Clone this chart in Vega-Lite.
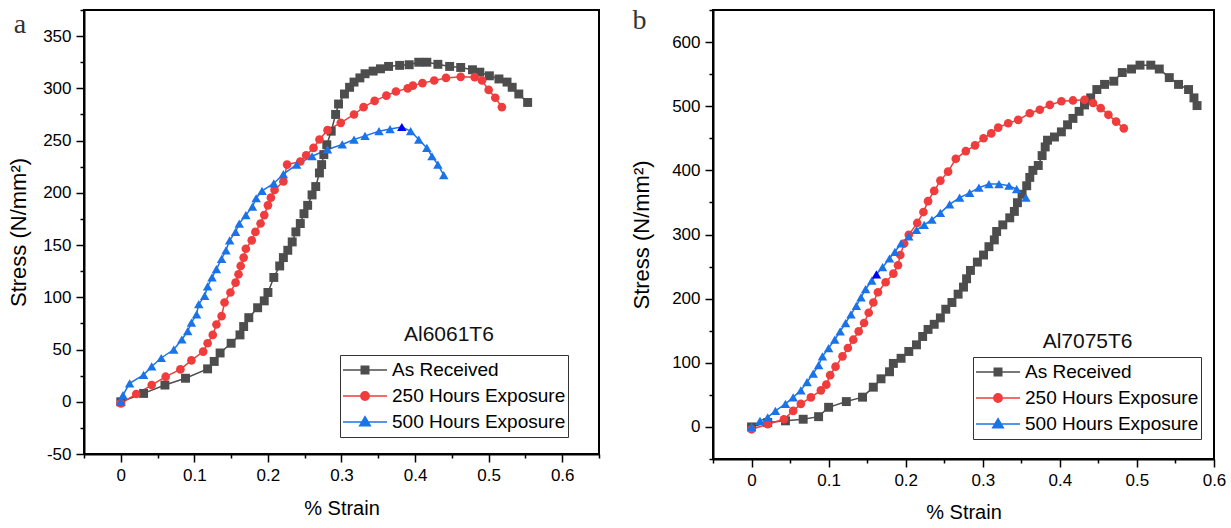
{
  "$schema": "https://vega.github.io/schema/vega-lite/v6.json",
  "background": "white",
  "padding": {"left": 6, "top": 0, "right": 5, "bottom": 0},
  "spacing": 28,
  "config": {
    "view": {"stroke": "black", "strokeWidth": 2},
    "style": {"cell": {"stroke": "black", "strokeWidth": 2}},
    "axis": {
      "domainColor": "black", "domainWidth": 2, "tickColor": "black", "tickWidth": 1.5,
      "labelFont": "Liberation Sans", "labelFontSize": 17, "labelColor": "black", "labelPadding": 5,
      "titleFont": "Liberation Sans", "titleFontSize": 20, "titleFontWeight": "normal", "titleColor": "black",
      "grid": false, "labelOverlap": false, "labelFlush": false, "labelBound": false
    },
    "axisY": {"titleFontSize": 22},
    "legend": {
      "strokeColor": "#333", "padding": 2, "labelFont": "Liberation Sans", "labelFontSize": 19,
      "labelColor": "black", "labelOffset": 4, "clipHeight": 26, "rowPadding": 0,
      "symbolStrokeWidth": 1.5, "symbolSize": 1936, "symbolOpacity": 1, "labelLimit": 300, "fillColor": "white"
    }
  },
  "resolve": {"scale": {"fill": "independent", "stroke": "independent", "shape": "independent"}},
  "datasets": {
    "a": [
      {"series": "As Received", "strain": 0, "stress": 0},
      {"series": "As Received", "strain": 0.031, "stress": 8},
      {"series": "As Received", "strain": 0.06, "stress": 16},
      {"series": "As Received", "strain": 0.088, "stress": 22.5},
      {"series": "As Received", "strain": 0.118, "stress": 31.5},
      {"series": "As Received", "strain": 0.127, "stress": 38.6},
      {"series": "As Received", "strain": 0.135, "stress": 46.7},
      {"series": "As Received", "strain": 0.15, "stress": 56},
      {"series": "As Received", "strain": 0.162, "stress": 64},
      {"series": "As Received", "strain": 0.167, "stress": 72},
      {"series": "As Received", "strain": 0.174, "stress": 80.5},
      {"series": "As Received", "strain": 0.186, "stress": 90},
      {"series": "As Received", "strain": 0.195, "stress": 96.6},
      {"series": "As Received", "strain": 0.2, "stress": 104.6},
      {"series": "As Received", "strain": 0.208, "stress": 119},
      {"series": "As Received", "strain": 0.216, "stress": 130},
      {"series": "As Received", "strain": 0.221, "stress": 138},
      {"series": "As Received", "strain": 0.227, "stress": 145},
      {"series": "As Received", "strain": 0.233, "stress": 153},
      {"series": "As Received", "strain": 0.238, "stress": 162.6},
      {"series": "As Received", "strain": 0.244, "stress": 170.6},
      {"series": "As Received", "strain": 0.249, "stress": 180},
      {"series": "As Received", "strain": 0.254, "stress": 188},
      {"series": "As Received", "strain": 0.26, "stress": 198},
      {"series": "As Received", "strain": 0.265, "stress": 206},
      {"series": "As Received", "strain": 0.27, "stress": 219},
      {"series": "As Received", "strain": 0.273, "stress": 227},
      {"series": "As Received", "strain": 0.276, "stress": 236.6},
      {"series": "As Received", "strain": 0.28, "stress": 246},
      {"series": "As Received", "strain": 0.286, "stress": 259},
      {"series": "As Received", "strain": 0.292, "stress": 275},
      {"series": "As Received", "strain": 0.296, "stress": 285},
      {"series": "As Received", "strain": 0.304, "stress": 294.6},
      {"series": "As Received", "strain": 0.311, "stress": 301},
      {"series": "As Received", "strain": 0.317, "stress": 306},
      {"series": "As Received", "strain": 0.325, "stress": 310},
      {"series": "As Received", "strain": 0.332, "stress": 314},
      {"series": "As Received", "strain": 0.343, "stress": 316.5},
      {"series": "As Received", "strain": 0.353, "stress": 318.7},
      {"series": "As Received", "strain": 0.364, "stress": 321},
      {"series": "As Received", "strain": 0.379, "stress": 322},
      {"series": "As Received", "strain": 0.392, "stress": 322.6},
      {"series": "As Received", "strain": 0.405, "stress": 325},
      {"series": "As Received", "strain": 0.416, "stress": 325},
      {"series": "As Received", "strain": 0.431, "stress": 323},
      {"series": "As Received", "strain": 0.447, "stress": 321},
      {"series": "As Received", "strain": 0.462, "stress": 320},
      {"series": "As Received", "strain": 0.478, "stress": 317.8},
      {"series": "As Received", "strain": 0.488, "stress": 315.5},
      {"series": "As Received", "strain": 0.501, "stress": 312},
      {"series": "As Received", "strain": 0.514, "stress": 309},
      {"series": "As Received", "strain": 0.525, "stress": 306},
      {"series": "As Received", "strain": 0.532, "stress": 301},
      {"series": "As Received", "strain": 0.541, "stress": 294.6},
      {"series": "As Received", "strain": 0.553, "stress": 286.5},
      {"series": "250 Hours Exposure", "strain": 0, "stress": -1.6},
      {"series": "250 Hours Exposure", "strain": 0.021, "stress": 7.4},
      {"series": "250 Hours Exposure", "strain": 0.042, "stress": 16},
      {"series": "250 Hours Exposure", "strain": 0.061, "stress": 24},
      {"series": "250 Hours Exposure", "strain": 0.081, "stress": 31},
      {"series": "250 Hours Exposure", "strain": 0.096, "stress": 39.6},
      {"series": "250 Hours Exposure", "strain": 0.112, "stress": 48},
      {"series": "250 Hours Exposure", "strain": 0.118, "stress": 56},
      {"series": "250 Hours Exposure", "strain": 0.125, "stress": 64},
      {"series": "250 Hours Exposure", "strain": 0.13, "stress": 74},
      {"series": "250 Hours Exposure", "strain": 0.137, "stress": 82},
      {"series": "250 Hours Exposure", "strain": 0.141, "stress": 95},
      {"series": "250 Hours Exposure", "strain": 0.149, "stress": 104.6},
      {"series": "250 Hours Exposure", "strain": 0.156, "stress": 114},
      {"series": "250 Hours Exposure", "strain": 0.16, "stress": 122},
      {"series": "250 Hours Exposure", "strain": 0.163, "stress": 130},
      {"series": "250 Hours Exposure", "strain": 0.167, "stress": 138},
      {"series": "250 Hours Exposure", "strain": 0.17, "stress": 146.5},
      {"series": "250 Hours Exposure", "strain": 0.178, "stress": 154.5},
      {"series": "250 Hours Exposure", "strain": 0.183, "stress": 162.6},
      {"series": "250 Hours Exposure", "strain": 0.19, "stress": 170.6},
      {"series": "250 Hours Exposure", "strain": 0.195, "stress": 178.7},
      {"series": "250 Hours Exposure", "strain": 0.2, "stress": 188},
      {"series": "250 Hours Exposure", "strain": 0.204, "stress": 195.4},
      {"series": "250 Hours Exposure", "strain": 0.209, "stress": 202.8},
      {"series": "250 Hours Exposure", "strain": 0.221, "stress": 210.9},
      {"series": "250 Hours Exposure", "strain": 0.226, "stress": 227},
      {"series": "250 Hours Exposure", "strain": 0.244, "stress": 230},
      {"series": "250 Hours Exposure", "strain": 0.252, "stress": 236},
      {"series": "250 Hours Exposure", "strain": 0.262, "stress": 243},
      {"series": "250 Hours Exposure", "strain": 0.27, "stress": 251},
      {"series": "250 Hours Exposure", "strain": 0.281, "stress": 260},
      {"series": "250 Hours Exposure", "strain": 0.299, "stress": 267},
      {"series": "250 Hours Exposure", "strain": 0.317, "stress": 275},
      {"series": "250 Hours Exposure", "strain": 0.33, "stress": 282},
      {"series": "250 Hours Exposure", "strain": 0.345, "stress": 288},
      {"series": "250 Hours Exposure", "strain": 0.361, "stress": 293},
      {"series": "250 Hours Exposure", "strain": 0.374, "stress": 297},
      {"series": "250 Hours Exposure", "strain": 0.39, "stress": 300},
      {"series": "250 Hours Exposure", "strain": 0.397, "stress": 302.6},
      {"series": "250 Hours Exposure", "strain": 0.41, "stress": 305},
      {"series": "250 Hours Exposure", "strain": 0.426, "stress": 307.5},
      {"series": "250 Hours Exposure", "strain": 0.442, "stress": 310},
      {"series": "250 Hours Exposure", "strain": 0.462, "stress": 311},
      {"series": "250 Hours Exposure", "strain": 0.481, "stress": 310.7},
      {"series": "250 Hours Exposure", "strain": 0.491, "stress": 307.5},
      {"series": "250 Hours Exposure", "strain": 0.5, "stress": 298.5},
      {"series": "250 Hours Exposure", "strain": 0.509, "stress": 291},
      {"series": "250 Hours Exposure", "strain": 0.518, "stress": 282},
      {"series": "500 Hours Exposure", "strain": 0, "stress": 0},
      {"series": "500 Hours Exposure", "strain": 0.003, "stress": 6.4},
      {"series": "500 Hours Exposure", "strain": 0.012, "stress": 17.7},
      {"series": "500 Hours Exposure", "strain": 0.031, "stress": 25.8},
      {"series": "500 Hours Exposure", "strain": 0.042, "stress": 33.8},
      {"series": "500 Hours Exposure", "strain": 0.055, "stress": 41.9},
      {"series": "500 Hours Exposure", "strain": 0.072, "stress": 50},
      {"series": "500 Hours Exposure", "strain": 0.083, "stress": 59.6},
      {"series": "500 Hours Exposure", "strain": 0.091, "stress": 67.6},
      {"series": "500 Hours Exposure", "strain": 0.096, "stress": 75.7},
      {"series": "500 Hours Exposure", "strain": 0.103, "stress": 83.7},
      {"series": "500 Hours Exposure", "strain": 0.106, "stress": 93.4},
      {"series": "500 Hours Exposure", "strain": 0.114, "stress": 101.4},
      {"series": "500 Hours Exposure", "strain": 0.118, "stress": 110.4},
      {"series": "500 Hours Exposure", "strain": 0.124, "stress": 119},
      {"series": "500 Hours Exposure", "strain": 0.13, "stress": 127},
      {"series": "500 Hours Exposure", "strain": 0.137, "stress": 136.8},
      {"series": "500 Hours Exposure", "strain": 0.143, "stress": 145},
      {"series": "500 Hours Exposure", "strain": 0.148, "stress": 154.5},
      {"series": "500 Hours Exposure", "strain": 0.156, "stress": 162.6},
      {"series": "500 Hours Exposure", "strain": 0.161, "stress": 170.6},
      {"series": "500 Hours Exposure", "strain": 0.17, "stress": 178.7},
      {"series": "500 Hours Exposure", "strain": 0.179, "stress": 186.7},
      {"series": "500 Hours Exposure", "strain": 0.184, "stress": 194.8},
      {"series": "500 Hours Exposure", "strain": 0.192, "stress": 201.9},
      {"series": "500 Hours Exposure", "strain": 0.208, "stress": 209},
      {"series": "500 Hours Exposure", "strain": 0.221, "stress": 218},
      {"series": "500 Hours Exposure", "strain": 0.239, "stress": 227},
      {"series": "500 Hours Exposure", "strain": 0.26, "stress": 235},
      {"series": "500 Hours Exposure", "strain": 0.281, "stress": 241.5},
      {"series": "500 Hours Exposure", "strain": 0.301, "stress": 246.3},
      {"series": "500 Hours Exposure", "strain": 0.317, "stress": 251},
      {"series": "500 Hours Exposure", "strain": 0.332, "stress": 254.5},
      {"series": "500 Hours Exposure", "strain": 0.351, "stress": 259},
      {"series": "500 Hours Exposure", "strain": 0.366, "stress": 261},
      {"series": "500 Hours Exposure", "strain": 0.382, "stress": 263, "peak": true},
      {"series": "500 Hours Exposure", "strain": 0.394, "stress": 259},
      {"series": "500 Hours Exposure", "strain": 0.405, "stress": 251},
      {"series": "500 Hours Exposure", "strain": 0.416, "stress": 243},
      {"series": "500 Hours Exposure", "strain": 0.423, "stress": 235},
      {"series": "500 Hours Exposure", "strain": 0.431, "stress": 227},
      {"series": "500 Hours Exposure", "strain": 0.439, "stress": 217}
    ],
    "b": [
      {"series": "As Received", "strain": 0, "stress": 0},
      {"series": "As Received", "strain": 0.021, "stress": 6.9},
      {"series": "As Received", "strain": 0.044, "stress": 9.5},
      {"series": "As Received", "strain": 0.067, "stress": 12},
      {"series": "As Received", "strain": 0.087, "stress": 16},
      {"series": "As Received", "strain": 0.1, "stress": 30.6},
      {"series": "As Received", "strain": 0.123, "stress": 39.5},
      {"series": "As Received", "strain": 0.144, "stress": 46.4},
      {"series": "As Received", "strain": 0.158, "stress": 62},
      {"series": "As Received", "strain": 0.168, "stress": 75},
      {"series": "As Received", "strain": 0.179, "stress": 86},
      {"series": "As Received", "strain": 0.184, "stress": 99},
      {"series": "As Received", "strain": 0.194, "stress": 107},
      {"series": "As Received", "strain": 0.204, "stress": 117.6},
      {"series": "As Received", "strain": 0.214, "stress": 128},
      {"series": "As Received", "strain": 0.222, "stress": 141},
      {"series": "As Received", "strain": 0.229, "stress": 152},
      {"series": "As Received", "strain": 0.237, "stress": 160},
      {"series": "As Received", "strain": 0.245, "stress": 170},
      {"series": "As Received", "strain": 0.252, "stress": 183.5},
      {"series": "As Received", "strain": 0.26, "stress": 194},
      {"series": "As Received", "strain": 0.268, "stress": 207},
      {"series": "As Received", "strain": 0.275, "stress": 218},
      {"series": "As Received", "strain": 0.279, "stress": 231},
      {"series": "As Received", "strain": 0.284, "stress": 244},
      {"series": "As Received", "strain": 0.293, "stress": 257},
      {"series": "As Received", "strain": 0.301, "stress": 268},
      {"series": "As Received", "strain": 0.308, "stress": 281},
      {"series": "As Received", "strain": 0.315, "stress": 291.6},
      {"series": "As Received", "strain": 0.318, "stress": 304.7},
      {"series": "As Received", "strain": 0.326, "stress": 315},
      {"series": "As Received", "strain": 0.335, "stress": 326},
      {"series": "As Received", "strain": 0.341, "stress": 336},
      {"series": "As Received", "strain": 0.345, "stress": 349.6},
      {"series": "As Received", "strain": 0.351, "stress": 362.7},
      {"series": "As Received", "strain": 0.357, "stress": 376},
      {"series": "As Received", "strain": 0.361, "stress": 389},
      {"series": "As Received", "strain": 0.365, "stress": 400},
      {"series": "As Received", "strain": 0.372, "stress": 407.6},
      {"series": "As Received", "strain": 0.377, "stress": 423},
      {"series": "As Received", "strain": 0.381, "stress": 436.5},
      {"series": "As Received", "strain": 0.384, "stress": 447},
      {"series": "As Received", "strain": 0.393, "stress": 452},
      {"series": "As Received", "strain": 0.402, "stress": 460},
      {"series": "As Received", "strain": 0.41, "stress": 471},
      {"series": "As Received", "strain": 0.417, "stress": 481},
      {"series": "As Received", "strain": 0.425, "stress": 492},
      {"series": "As Received", "strain": 0.432, "stress": 502},
      {"series": "As Received", "strain": 0.44, "stress": 513},
      {"series": "As Received", "strain": 0.448, "stress": 526},
      {"series": "As Received", "strain": 0.458, "stress": 534},
      {"series": "As Received", "strain": 0.47, "stress": 539},
      {"series": "As Received", "strain": 0.481, "stress": 552.5},
      {"series": "As Received", "strain": 0.493, "stress": 558},
      {"series": "As Received", "strain": 0.504, "stress": 564},
      {"series": "As Received", "strain": 0.518, "stress": 564},
      {"series": "As Received", "strain": 0.529, "stress": 558},
      {"series": "As Received", "strain": 0.542, "stress": 544.6},
      {"series": "As Received", "strain": 0.554, "stress": 534},
      {"series": "As Received", "strain": 0.567, "stress": 526},
      {"series": "As Received", "strain": 0.574, "stress": 513},
      {"series": "As Received", "strain": 0.578, "stress": 501},
      {"series": "250 Hours Exposure", "strain": 0, "stress": -3.7},
      {"series": "250 Hours Exposure", "strain": 0.021, "stress": 4.2},
      {"series": "250 Hours Exposure", "strain": 0.042, "stress": 12},
      {"series": "250 Hours Exposure", "strain": 0.054, "stress": 25},
      {"series": "250 Hours Exposure", "strain": 0.064, "stress": 36},
      {"series": "250 Hours Exposure", "strain": 0.077, "stress": 46},
      {"series": "250 Hours Exposure", "strain": 0.09, "stress": 57},
      {"series": "250 Hours Exposure", "strain": 0.097, "stress": 66},
      {"series": "250 Hours Exposure", "strain": 0.102, "stress": 80.7},
      {"series": "250 Hours Exposure", "strain": 0.109, "stress": 94},
      {"series": "250 Hours Exposure", "strain": 0.118, "stress": 110},
      {"series": "250 Hours Exposure", "strain": 0.125, "stress": 123},
      {"series": "250 Hours Exposure", "strain": 0.132, "stress": 136},
      {"series": "250 Hours Exposure", "strain": 0.139, "stress": 149},
      {"series": "250 Hours Exposure", "strain": 0.146, "stress": 162},
      {"series": "250 Hours Exposure", "strain": 0.152, "stress": 178},
      {"series": "250 Hours Exposure", "strain": 0.158, "stress": 194},
      {"series": "250 Hours Exposure", "strain": 0.164, "stress": 210},
      {"series": "250 Hours Exposure", "strain": 0.174, "stress": 225.6},
      {"series": "250 Hours Exposure", "strain": 0.184, "stress": 239},
      {"series": "250 Hours Exposure", "strain": 0.19, "stress": 252},
      {"series": "250 Hours Exposure", "strain": 0.193, "stress": 268},
      {"series": "250 Hours Exposure", "strain": 0.198, "stress": 286},
      {"series": "250 Hours Exposure", "strain": 0.204, "stress": 299.5},
      {"series": "250 Hours Exposure", "strain": 0.215, "stress": 318},
      {"series": "250 Hours Exposure", "strain": 0.223, "stress": 335},
      {"series": "250 Hours Exposure", "strain": 0.229, "stress": 352},
      {"series": "250 Hours Exposure", "strain": 0.237, "stress": 368},
      {"series": "250 Hours Exposure", "strain": 0.245, "stress": 384},
      {"series": "250 Hours Exposure", "strain": 0.255, "stress": 398},
      {"series": "250 Hours Exposure", "strain": 0.265, "stress": 418},
      {"series": "250 Hours Exposure", "strain": 0.278, "stress": 430},
      {"series": "250 Hours Exposure", "strain": 0.29, "stress": 439},
      {"series": "250 Hours Exposure", "strain": 0.301, "stress": 450},
      {"series": "250 Hours Exposure", "strain": 0.311, "stress": 457.6},
      {"series": "250 Hours Exposure", "strain": 0.32, "stress": 466.6},
      {"series": "250 Hours Exposure", "strain": 0.333, "stress": 473.5},
      {"series": "250 Hours Exposure", "strain": 0.346, "stress": 478.7},
      {"series": "250 Hours Exposure", "strain": 0.361, "stress": 489},
      {"series": "250 Hours Exposure", "strain": 0.374, "stress": 494.5},
      {"series": "250 Hours Exposure", "strain": 0.387, "stress": 502},
      {"series": "250 Hours Exposure", "strain": 0.402, "stress": 507.7},
      {"series": "250 Hours Exposure", "strain": 0.417, "stress": 509},
      {"series": "250 Hours Exposure", "strain": 0.432, "stress": 510},
      {"series": "250 Hours Exposure", "strain": 0.443, "stress": 505},
      {"series": "250 Hours Exposure", "strain": 0.453, "stress": 497},
      {"series": "250 Hours Exposure", "strain": 0.463, "stress": 486.6},
      {"series": "250 Hours Exposure", "strain": 0.473, "stress": 476},
      {"series": "250 Hours Exposure", "strain": 0.483, "stress": 465.5},
      {"series": "500 Hours Exposure", "strain": 0, "stress": 0},
      {"series": "500 Hours Exposure", "strain": 0.011, "stress": 9.5},
      {"series": "500 Hours Exposure", "strain": 0.021, "stress": 14.8},
      {"series": "500 Hours Exposure", "strain": 0.031, "stress": 25},
      {"series": "500 Hours Exposure", "strain": 0.044, "stress": 36},
      {"series": "500 Hours Exposure", "strain": 0.054, "stress": 46},
      {"series": "500 Hours Exposure", "strain": 0.064, "stress": 57},
      {"series": "500 Hours Exposure", "strain": 0.072, "stress": 70},
      {"series": "500 Hours Exposure", "strain": 0.08, "stress": 83},
      {"series": "500 Hours Exposure", "strain": 0.087, "stress": 96.5},
      {"series": "500 Hours Exposure", "strain": 0.092, "stress": 110},
      {"series": "500 Hours Exposure", "strain": 0.1, "stress": 123},
      {"series": "500 Hours Exposure", "strain": 0.108, "stress": 136},
      {"series": "500 Hours Exposure", "strain": 0.115, "stress": 149},
      {"series": "500 Hours Exposure", "strain": 0.122, "stress": 162},
      {"series": "500 Hours Exposure", "strain": 0.129, "stress": 175.6},
      {"series": "500 Hours Exposure", "strain": 0.136, "stress": 188.8},
      {"series": "500 Hours Exposure", "strain": 0.142, "stress": 202},
      {"series": "500 Hours Exposure", "strain": 0.148, "stress": 215},
      {"series": "500 Hours Exposure", "strain": 0.156, "stress": 228},
      {"series": "500 Hours Exposure", "strain": 0.162, "stress": 238, "peak": true},
      {"series": "500 Hours Exposure", "strain": 0.17, "stress": 249},
      {"series": "500 Hours Exposure", "strain": 0.179, "stress": 262.6},
      {"series": "500 Hours Exposure", "strain": 0.186, "stress": 273},
      {"series": "500 Hours Exposure", "strain": 0.194, "stress": 286},
      {"series": "500 Hours Exposure", "strain": 0.204, "stress": 297},
      {"series": "500 Hours Exposure", "strain": 0.214, "stress": 307},
      {"series": "500 Hours Exposure", "strain": 0.224, "stress": 315},
      {"series": "500 Hours Exposure", "strain": 0.234, "stress": 323},
      {"series": "500 Hours Exposure", "strain": 0.245, "stress": 333.7},
      {"series": "500 Hours Exposure", "strain": 0.257, "stress": 347},
      {"series": "500 Hours Exposure", "strain": 0.27, "stress": 357.5},
      {"series": "500 Hours Exposure", "strain": 0.283, "stress": 365},
      {"series": "500 Hours Exposure", "strain": 0.295, "stress": 373},
      {"series": "500 Hours Exposure", "strain": 0.308, "stress": 378.6},
      {"series": "500 Hours Exposure", "strain": 0.321, "stress": 378.6},
      {"series": "500 Hours Exposure", "strain": 0.334, "stress": 376},
      {"series": "500 Hours Exposure", "strain": 0.344, "stress": 370.6},
      {"series": "500 Hours Exposure", "strain": 0.356, "stress": 357.5}
    ]
  },
  "hconcat": [
    {
      "width": 515,
      "height": 444,
      "data": {"name": "a"},
      "encoding": {
        "x": {"field": "strain", "type": "quantitative",
          "scale": {"domain": [-0.05, 0.65], "nice": false, "zero": false},
          "axis": {"title": "% Strain", "titlePadding": 15,
            "values": [-0.05, 0, 0.05, 0.1, 0.15, 0.2, 0.25, 0.3, 0.35, 0.4, 0.45, 0.5, 0.55, 0.6, 0.65],
            "labelExpr": "round(datum.value*100) % 10 === 0 ? '' + datum.value : ''",
            "tickSize": {"condition": {"test": "round(datum.value*100) % 10 === 0", "value": 8}, "value": 4}}},
        "y": {"field": "stress", "type": "quantitative",
          "scale": {"domain": [-50, 375], "nice": false, "zero": false},
          "axis": {"title": "Stress (N/mm²)", "titlePadding": 12,
            "values": [-50, -25, 0, 25, 50, 75, 100, 125, 150, 175, 200, 225, 250, 275, 300, 325, 350, 375],
            "labelExpr": "datum.value % 50 === 0 ? '' + datum.value : ''",
            "tickSize": {"condition": {"test": "datum.value % 50 === 0", "value": 8}, "value": 4}}}
      },
      "layer": [
        {"mark": {"type": "line", "strokeWidth": 1.5},
         "encoding": {"color": {"field": "series", "type": "nominal", "legend": null,
           "scale": {"domain": ["As Received", "250 Hours Exposure", "500 Hours Exposure"], "range": ["#4d4d4d", "#f03c3c", "#1a73e8"]}}}},
        {"transform": [{"filter": "datum.series === 'As Received'"}],
         "mark": {"type": "point", "shape": "square", "filled": true, "size": 80, "opacity": 1},
         "encoding": {"color": {"field": "series", "type": "nominal", "legend": null}}},
        {"transform": [{"filter": "datum.series === '250 Hours Exposure'"}],
         "mark": {"type": "point", "shape": "circle", "filled": true, "size": 75, "opacity": 1},
         "encoding": {"color": {"field": "series", "type": "nominal", "legend": null}}},
        {"transform": [{"filter": "datum.series === '500 Hours Exposure'"}],
         "mark": {"type": "point", "shape": "triangle-up", "filled": true, "size": 90, "opacity": 1},
         "encoding": {"color": {"condition": {"test": "datum.peak === true", "value": "#0000ff"}, "field": "series", "type": "nominal", "legend": null}}},
        {"transform": [{"filter": "false"}],
         "mark": {"type": "point", "filled": true, "opacity": 1},
         "encoding": {
           "fill": {"field": "series", "type": "nominal",
             "scale": {"domain": ["As Received", "250 Hours Exposure", "500 Hours Exposure"], "range": ["#4d4d4d", "#f03c3c", "#1a73e8"]},
             "legend": {"orient": "none", "legendX": 256, "legendY": 345, "title": null}},
           "stroke": {"field": "series", "type": "nominal",
             "scale": {"domain": ["As Received", "250 Hours Exposure", "500 Hours Exposure"], "range": ["#4d4d4d", "#f03c3c", "#1a73e8"]},
             "legend": {"orient": "none", "legendX": 256, "legendY": 345, "title": null}},
           "shape": {"field": "series", "type": "nominal",
             "scale": {"domain": ["As Received", "250 Hours Exposure", "500 Hours Exposure"],
               "range": ["M-1,0H1M-0.17,-0.17H0.17V0.17H-0.17Z", "M-1,0H1M0.19,0A0.19,0.19,0,1,1,-0.19,0A0.19,0.19,0,1,1,0.19,0Z", "M-1,0H1M0,-0.24L0.24,0.17H-0.24Z"]},
             "legend": {"orient": "none", "legendX": 256, "legendY": 345, "title": null}}
         }},
        {"data": {"values": [{"label": "Al6061T6", "strain": 0.446, "stress": 57.8}]},
         "mark": {"type": "text", "font": "Liberation Sans", "fontSize": 21, "align": "center", "baseline": "alphabetic", "color": "#111"},
         "encoding": {"text": {"field": "label"}}},
        {"data": {"values": [{"label": "a", "strain": -0.137, "stress": 353}]},
         "mark": {"type": "text", "font": "Liberation Serif", "fontSize": 28, "align": "center", "baseline": "alphabetic", "color": "#333"},
         "encoding": {"text": {"field": "label"}}}
      ]
    },
    {
      "width": 501,
      "height": 449,
      "data": {"name": "b"},
      "encoding": {
        "x": {"field": "strain", "type": "quantitative",
          "scale": {"domain": [-0.05, 0.6], "nice": false, "zero": false},
          "axis": {"title": "% Strain", "titlePadding": 14,
            "values": [-0.05, 0, 0.05, 0.1, 0.15, 0.2, 0.25, 0.3, 0.35, 0.4, 0.45, 0.5, 0.55, 0.6],
            "labelExpr": "round(datum.value*100) % 10 === 0 ? '' + datum.value : ''",
            "tickSize": {"condition": {"test": "round(datum.value*100) % 10 === 0", "value": 8}, "value": 4}}},
        "y": {"field": "stress", "type": "quantitative",
          "scale": {"domain": [-50, 650], "nice": false, "zero": false},
          "axis": {"title": "Stress (N/mm²)", "titlePadding": 18,
            "values": [-50, 0, 50, 100, 150, 200, 250, 300, 350, 400, 450, 500, 550, 600, 650],
            "labelExpr": "datum.value % 100 === 0 ? '' + datum.value : ''",
            "tickSize": {"condition": {"test": "datum.value % 100 === 0", "value": 8}, "value": 4}}}
      },
      "layer": [
        {"mark": {"type": "line", "strokeWidth": 1.5},
         "encoding": {"color": {"field": "series", "type": "nominal", "legend": null,
           "scale": {"domain": ["As Received", "250 Hours Exposure", "500 Hours Exposure"], "range": ["#4d4d4d", "#f03c3c", "#1a73e8"]}}}},
        {"transform": [{"filter": "datum.series === 'As Received'"}],
         "mark": {"type": "point", "shape": "square", "filled": true, "size": 80, "opacity": 1},
         "encoding": {"color": {"field": "series", "type": "nominal", "legend": null}}},
        {"transform": [{"filter": "datum.series === '250 Hours Exposure'"}],
         "mark": {"type": "point", "shape": "circle", "filled": true, "size": 75, "opacity": 1},
         "encoding": {"color": {"field": "series", "type": "nominal", "legend": null}}},
        {"transform": [{"filter": "datum.series === '500 Hours Exposure'"}],
         "mark": {"type": "point", "shape": "triangle-up", "filled": true, "size": 90, "opacity": 1},
         "encoding": {"color": {"condition": {"test": "datum.peak === true", "value": "#0000ff"}, "field": "series", "type": "nominal", "legend": null}}},
        {"transform": [{"filter": "false"}],
         "mark": {"type": "point", "filled": true, "opacity": 1},
         "encoding": {
           "fill": {"field": "series", "type": "nominal",
             "scale": {"domain": ["As Received", "250 Hours Exposure", "500 Hours Exposure"], "range": ["#4d4d4d", "#f03c3c", "#1a73e8"]},
             "legend": {"orient": "none", "legendX": 260, "legendY": 347, "title": null}},
           "stroke": {"field": "series", "type": "nominal",
             "scale": {"domain": ["As Received", "250 Hours Exposure", "500 Hours Exposure"], "range": ["#4d4d4d", "#f03c3c", "#1a73e8"]},
             "legend": {"orient": "none", "legendX": 260, "legendY": 347, "title": null}},
           "shape": {"field": "series", "type": "nominal",
             "scale": {"domain": ["As Received", "250 Hours Exposure", "500 Hours Exposure"],
               "range": ["M-1,0H1M-0.17,-0.17H0.17V0.17H-0.17Z", "M-1,0H1M0.19,0A0.19,0.19,0,1,1,-0.19,0A0.19,0.19,0,1,1,0.19,0Z", "M-1,0H1M0,-0.24L0.24,0.17H-0.24Z"]},
             "legend": {"orient": "none", "legendX": 260, "legendY": 347, "title": null}}
         }},
        {"data": {"values": [{"label": "Al7075T6", "strain": 0.436, "stress": 122.5}]},
         "mark": {"type": "text", "font": "Liberation Sans", "fontSize": 21, "align": "center", "baseline": "alphabetic", "color": "#111"},
         "encoding": {"text": {"field": "label"}}},
        {"data": {"values": [{"label": "b", "strain": -0.1455, "stress": 620}]},
         "mark": {"type": "text", "font": "Liberation Serif", "fontSize": 28, "align": "center", "baseline": "alphabetic", "color": "#333"},
         "encoding": {"text": {"field": "label"}}}
      ]
    }
  ]
}
